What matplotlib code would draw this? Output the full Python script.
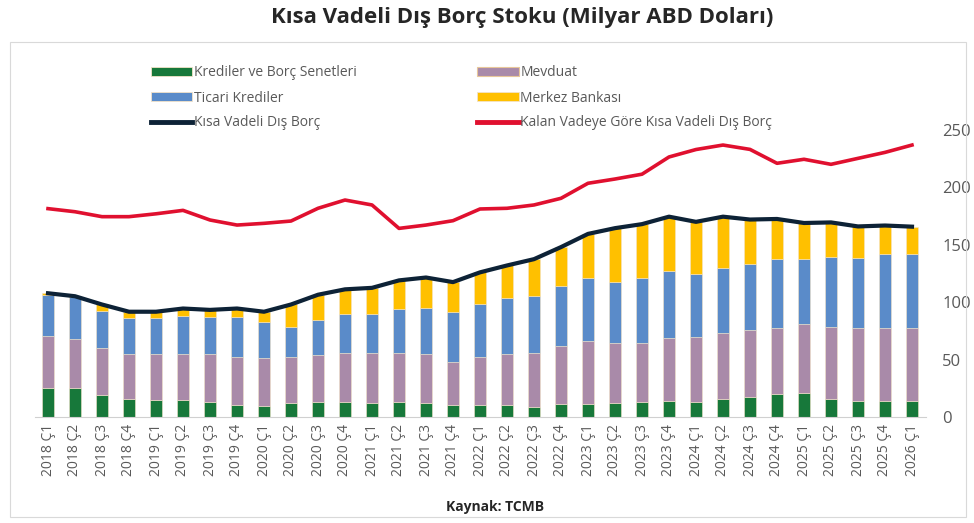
import matplotlib
matplotlib.use("Agg")
import matplotlib.pyplot as plt
from matplotlib.patches import Rectangle
from matplotlib.lines import Line2D
import numpy as np

plt.rcParams['font.family'] = ['Open Sans', 'DejaVu Sans']

years = [2018] * 4 + [2019] * 4 + [2020] * 4 + [2021] * 4 + [2022] * 4 + [2023] * 4 + [2024] * 4 + [2025] * 4 + [2026]
quarters = ["Ç1", "Ç2", "Ç3", "Ç4"] * 8 + ["Ç1"]
labels = [f"{y} {q}" for y, q in zip(years, quarters)]

# milyar ABD dolari
krediler = [25.0, 25.0, 18.9, 16.0, 14.8, 14.8, 13.4, 10.5, 9.9, 11.9, 12.8, 13.4, 12.5, 13.4, 11.9, 10.5,
            10.5, 10.5, 9.0, 11.1, 11.1, 11.9, 12.8, 13.6, 12.8, 16.0, 17.1, 20.0, 21.0, 15.4, 14.2, 14.2, 14.2]
mevduat = [45.6, 42.7, 40.9, 38.9, 40.1, 39.8, 41.2, 41.5, 41.5, 40.6, 41.2, 42.1, 43.0, 42.1, 43.0, 37.7,
           41.5, 44.1, 46.5, 51.0, 55.4, 52.3, 51.9, 55.5, 57.2, 57.4, 58.7, 57.2, 59.7, 62.7, 63.0, 63.6, 63.0]
ticari = [35.7, 36.5, 32.8, 31.1, 31.1, 33.7, 32.2, 34.8, 31.6, 25.6, 30.5, 34.2, 34.2, 38.3, 40.3, 43.0,
          46.2, 48.8, 50.2, 52.3, 54.9, 53.7, 56.7, 58.3, 54.6, 56.6, 57.2, 60.4, 56.9, 61.5, 61.0, 63.9, 64.5]
merkez = [1.5, 1.0, 5.4, 5.7, 5.7, 6.2, 6.5, 7.7, 8.7, 19.9, 22.0, 21.5, 22.8, 25.2, 26.3, 26.3,
          27.8, 28.6, 31.8, 33.6, 38.1, 46.6, 46.6, 47.1, 45.4, 44.5, 39.0, 34.9, 31.4, 29.9, 27.8, 25.1, 24.1]
kalan_vade = [181.5, 178.8, 174.5, 174.5, 177.0, 180.0, 171.6, 167.2, 168.7, 170.7, 181.8, 189.0, 184.7, 164.3, 167.2, 171.0,
              181.2, 181.8, 184.7, 190.5, 203.6, 207.3, 211.5, 226.5, 233.0, 236.9, 233.1, 221.0, 224.5, 220.1, 225.3, 230.5, 236.9]

c_kred = "#17783a"
c_mev = "#a98aa9"
c_tic = "#5a8bc9"
c_mb = "#ffc000"
c_kvdb = "#0d2236"
c_kalan = "#e0102f"
gray = "#595959"

fig = plt.figure(figsize=(9.74, 5.23), dpi=100)
fig.patches.append(Rectangle((10 / 974, 1 - 517 / 523), 956 / 974, 475 / 523, transform=fig.transFigure,
                             fill=False, edgecolor="#d9d9d9", linewidth=0.8))

ax = fig.add_axes([34.5 / 974, 1 - 417 / 523, 891 / 974, 287 / 523])

x = np.arange(len(labels))
w = 0.42
b1 = np.array(krediler)
b2 = b1 + np.array(mevduat)
b3 = b2 + np.array(ticari)
toplam = b3 + np.array(merkez)

ec = dict(edgecolor="#f3e3c8", linewidth=0.4)
ax.bar(x, krediler, w, color=c_kred, **ec)
ax.bar(x, mevduat, w, bottom=b1, color=c_mev, **ec)
ax.bar(x, ticari, w, bottom=b2, color=c_tic, **ec)
ax.bar(x, merkez, w, bottom=b3, color=c_mb, **ec)
ax.plot(x, toplam, color=c_kvdb, linewidth=3, solid_joinstyle="round")
ax.plot(x, kalan_vade, color=c_kalan, linewidth=2.6, solid_joinstyle="round")

ax.set_xlim(-0.5, len(labels) - 0.5)
ax.set_ylim(0, 250)
ax.set_xticks(x)
ax.set_xticklabels(labels, rotation=90, fontsize=10, color=gray)
ax.set_yticks(range(0, 251, 50))
ax.yaxis.tick_right()
ax.tick_params(axis="y", length=0, labelsize=12, labelcolor=gray, pad=12)
ax.tick_params(axis="x", length=0, pad=5)
for s in ["top", "left", "right"]:
    ax.spines[s].set_visible(False)
ax.spines["bottom"].set_color("#d0d0d0")

# legend, filled column by column
handles = [
    Rectangle((0, 0), 1, 1, facecolor=c_kred, edgecolor="#f3e3c8", linewidth=0.6),
    Rectangle((0, 0), 1, 1, facecolor=c_tic, edgecolor="#f3e3c8", linewidth=0.6),
    Line2D([], [], color=c_kvdb, linewidth=3.5),
    Rectangle((0, 0), 1, 1, facecolor=c_mev, edgecolor="#e8c79a", linewidth=0.8),
    Rectangle((0, 0), 1, 1, facecolor=c_mb, edgecolor="#f3e3c8", linewidth=0.6),
    Line2D([], [], color=c_kalan, linewidth=3.5),
]
names = ["Krediler ve Borç Senetleri", "Ticari Krediler", "Kısa Vadeli Dış Borç",
         "Mevduat", "Merkez Bankası", "Kalan Vadeye Göre Kısa Vadeli Dış Borç"]
leg = fig.legend(handles, names, ncol=2, loc="upper left", bbox_to_anchor=(138 / 974, 1 - 53 / 523),
                 frameon=False, fontsize=10, handlelength=3.0, handleheight=0.6, handletextpad=0.1,
                 columnspacing=8.7, labelspacing=0.72, labelcolor=gray)

fig.text(522 / 974, 1 - 18 / 523, "Kısa Vadeli Dış Borç Stoku (Milyar ABD Doları)", ha="center", va="center",
         fontsize=16, fontweight="bold", color="#262626")
fig.text(495 / 974, 1 - 507 / 523, "Kaynak: TCMB", ha="center", va="center", fontsize=10,
         fontweight="bold", color="#262626")

fig.savefig("out.png", dpi=100)
